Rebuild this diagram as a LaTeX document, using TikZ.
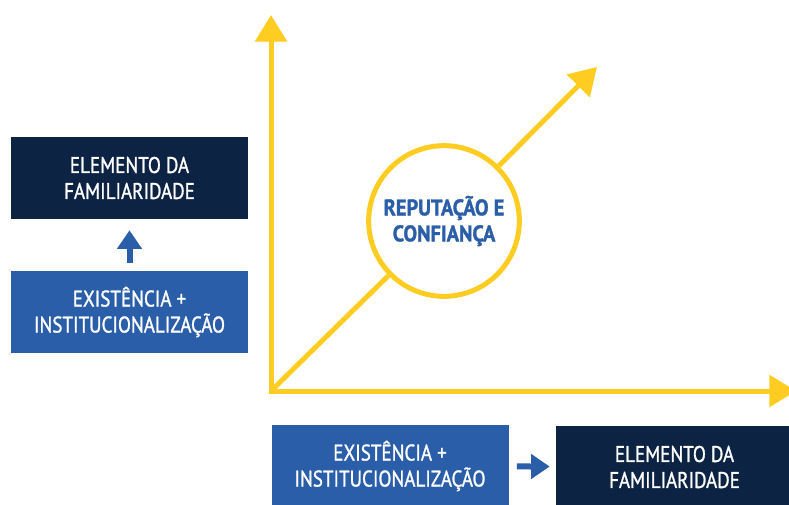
\documentclass[tikz,border=0pt]{standalone}
\usepackage{fontspec}
\setmainfont{PT Sans}[FakeStretch=0.84, FakeBold=1.2]
\newfontfamily\repfont{PT Sans Bold}[FakeStretch=0.9, FakeBold=1.2]
\usepackage{xcolor}
\usepackage{tikz}
\usetikzlibrary{positioning}
\usetikzlibrary{arrows.meta}
\definecolor{navy}{RGB}{12,35,68}
\definecolor{boxblue}{RGB}{42,94,168}
\definecolor{axisyellow}{RGB}{255,205,34}
\def\boxfont{\fontsize{17}{19.5}\selectfont}
\tikzstyle{darkbox} = [rectangle, fill=navy, text=white, minimum width=177.75pt, minimum height=61.5pt, inner sep=0pt, align=center, font=\boxfont]
\tikzstyle{bluebox} = [darkbox, fill=boxblue]
\tikzstyle{repcircle} = [circle, draw=axisyellow, fill=white, line width=3.75pt, minimum size=113pt, inner sep=0pt, align=center, text=boxblue, font=\repfont\boxfont]
\tikzstyle{axis} = [draw=axisyellow, line width=3.75pt]
\tikzstyle{bigtip} = [-{Triangle[width=23.5pt,length=20pt]}]
\tikzstyle{smallarrow} = [draw=boxblue, line width=4.5pt, -{Triangle[width=18pt,length=14pt]}]

\begin{document}
\begin{tikzpicture}[x=0.75pt,y=-0.75pt]
      \useasboundingbox (0,0) rectangle (789,504);
      \clip (0,0) rectangle (789,504);
      %%%%%%%%%%%%%%%%%%%%%%%%%%%%%%%%%%%%%%%
      \coordinate (o) at (271,391);
      \coordinate (ytip) at (271,15);
      \coordinate (xtip) at (796,391);
      \coordinate (dtip) at (597,67);
      \draw[axis, {Triangle[width=23.5pt,length=20pt]}-{Triangle[width=23.5pt,length=20pt]}] (ytip) -- (o) -- (xtip);
      \node (rep) [repcircle] at (444,221) {REPUTAÇÃO E\\CONFIANÇA};
      \draw[axis] (o) -- (rep);
      \draw[axis, bigtip] (rep) -- (dtip);
      %%%%%%%%%%%%%%%%%%%%%%%%%%%%%%%%%%%%%%%
      \node (fam1) [darkbox] at (129.5,178) {ELEMENTO DA\\FAMILIARIDADE};
      \node (exist1) [bluebox] at (129.5,312) {EXISTÊNCIA +\\INSTITUCIONALIZAÇÃO};
      \draw[smallarrow, shorten <=6pt, shorten >=8.25pt] (exist1) -- (fam1);
      %%%%%%%%%%%%%%%%%%%%%%%%%%%%%%%%%%%%%%%
      \node (exist2) [bluebox] at (390,466) {EXISTÊNCIA +\\INSTITUCIONALIZAÇÃO};
      \node (fam2) [darkbox] at (674.5,467) {ELEMENTO DA\\FAMILIARIDADE};
      \draw[smallarrow, shorten <=6pt, shorten >=4.5pt] (exist2) -- (fam2);
      \end{tikzpicture}
\end{document}
